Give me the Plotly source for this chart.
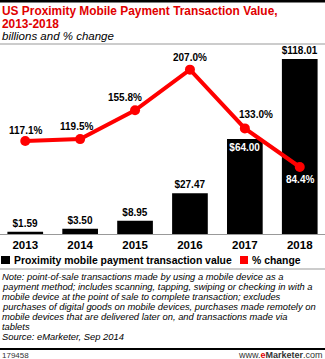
import plotly.graph_objects as go

years = ["2013", "2014", "2015", "2016", "2017", "2018"]
values = [1.59, 3.50, 8.95, 27.47, 64.00, 118.01]
pct_change = [117.1, 119.5, 155.8, 207.0, 133.0, 84.4]
value_labels = ["$1.59", "$3.50", "$8.95", "$27.47", "$64.00", "$118.01"]
pct_labels = ["117.1%", "119.5%", "155.8%", "207.0%", "133.0%", "84.4%"]

W, H = 325, 359
TOP, BOT = 50, 234
PH = BOT - TOP

def py(p):
    return (BOT - p) / PH

def px(p):
    return p / W

FONT = "Liberation Sans, Arial, sans-serif"
RED = "#ff0000"

fig = go.Figure()
fig.add_trace(go.Bar(
    x=years, y=values, marker=dict(color="#000000", line=dict(width=0)),
    width=0.65,
    text=value_labels,
    textposition=["outside", "outside", "outside", "outside", "inside", "outside"],
    insidetextanchor="end", textangle=0,
    insidetextfont=dict(color="white", size=10, family=FONT),
    outsidetextfont=dict(color="black", size=10, family=FONT),
    texttemplate="<b>%{text}</b>",
    constraintext="none", cliponaxis=False, showlegend=False,
))
fig.add_trace(go.Scatter(
    x=years, y=pct_change, yaxis="y2", mode="lines+markers",
    line=dict(color=RED, width=4), marker=dict(color=RED, size=10),
    cliponaxis=False, showlegend=False,
))

fig.update_layout(
    width=W, height=H, margin=dict(l=0, r=0, t=TOP, b=H - BOT),
    paper_bgcolor="white", plot_bgcolor="white", barmode="overlay",
    font=dict(family=FONT, color="black"),
    xaxis=dict(type="category", range=[-0.46, 5.46], showgrid=False, zeroline=False,
               showline=True, linecolor="#999999", linewidth=1,
               ticks="", tickfont=dict(size=11.5, family=FONT, color="black"),
               tickprefix="<b>", ticksuffix="</b>"),
    yaxis=dict(range=[0, PH / 1.483], visible=False),
    yaxis2=dict(range=[0, PH / 0.794], overlaying="y", visible=False),
)

shapes = [
    dict(type="line", xref="paper", yref="paper", x0=0, x1=1, y0=py(1), y1=py(1),
         line=dict(color="black", width=3)),
    dict(type="line", xref="paper", yref="paper", x0=0, x1=1, y0=py(44), y1=py(44),
         line=dict(color="#999999", width=1)),
    dict(type="line", xref="paper", yref="paper", x0=0, x1=1, y0=py(269), y1=py(269),
         line=dict(color="#999999", width=1)),
    dict(type="line", xref="paper", yref="paper", x0=0, x1=1, y0=py(349), y1=py(349),
         line=dict(color="black", width=2)),
    dict(type="rect", xref="paper", yref="paper", x0=px(1), x1=px(10), y0=py(264), y1=py(256),
         fillcolor="black", line=dict(width=0)),
    dict(type="rect", xref="paper", yref="paper", x0=px(240), x1=px(248), y0=py(264), y1=py(256),
         fillcolor=RED, line=dict(width=0)),
]
fig.update_layout(shapes=shapes)

ann = []
# line labels, placed from the data (category index on the x axis)
label_dx = [0, -4, -10, 0, 11, 0]
label_dy = [11, 13, 13, 12, 14, -13]
for i, (v, lab) in enumerate(zip(pct_change, pct_labels)):
    last = i == len(pct_change) - 1
    ann.append(dict(text="<b>%s</b>" % lab, x=i, y=v, xref="x", yref="y2",
                    xanchor="center", yanchor="middle", showarrow=False,
                    xshift=label_dx[i], yshift=label_dy[i],
                    font=dict(size=10, family=FONT,
                              color="white" if last else "black")))

def add(text, x, y, size, xanchor="left", color="black", italic=False, bold=False):
    t = text
    if bold:
        t = "<b>%s</b>" % t
    if italic:
        t = "<i>%s</i>" % t
    ann.append(dict(text=t, x=px(x), y=py(y), xref="paper", yref="paper",
                    xanchor=xanchor, yanchor="middle", showarrow=False,
                    font=dict(size=size, color=color, family=FONT), align="left"))

add("US Proximity Mobile Payment Transaction Value,", 0, 11, 11.9, color="#e00000", bold=True)
add("2013-2018", 0, 24, 11.9, color="#e00000", bold=True)
add("billions and % change", 0, 36, 11.5, italic=True)
add("Proximity mobile payment transaction value", 12, 260, 10.4, bold=True)
add("% change", 250, 260, 10.4, bold=True)

note_lines = [
    "Note: point-of-sale transactions made by using a mobile device as a",
    "payment method; includes scanning, tapping, swiping or checking in with a",
    "mobile device at the point of sale to complete transaction; excludes",
    "purchases of digital goods on mobile devices, purchases made remotely on",
    "mobile devices that are delivered later on, and transactions made via",
    "tablets",
    "Source: eMarketer, Sep 2014",
]
for i, line in enumerate(note_lines):
    add(line, 0, 276 + i * 10, 9.4, italic=True)

add("179458", 0, 355, 8, color="#333333")
ann.append(dict(text="www.<b><span style='color:#e00000'>e</span>Marketer</b>.com",
                x=1, y=py(355), xref="paper", yref="paper", xanchor="right",
                yanchor="middle", showarrow=False,
                font=dict(size=9, color="#333333", family=FONT)))
fig.update_layout(annotations=ann)

fig.write_html("out.html")
